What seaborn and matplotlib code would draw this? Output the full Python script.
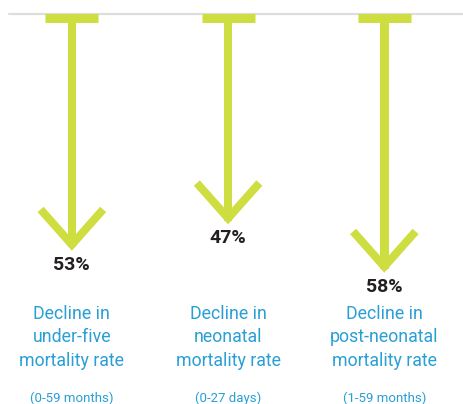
import matplotlib
matplotlib.use("Agg")
import matplotlib.pyplot as plt
import seaborn as sns
import pandas as pd
import numpy as np

# Data
groups = ["under-five", "neonatal", "post-neonatal"]
declines = [53, 47, 58]
titles = ["Decline in\nunder-five\nmortality rate",
          "Decline in\nneonatal\nmortality rate",
          "Decline in\npost-neonatal\nmortality rate"]
ranges = ["(0-59 months)", "(0-27 days)", "(1-59 months)"]

green = "#cedd40"
blue = "#2a9fd6"

sns.set_style("white")
plt.rcParams["font.family"] = ["Roboto", "DejaVu Sans"]

df = pd.DataFrame({"group": groups, "decline": declines})

fig = plt.figure(figsize=(4.64, 4.04), dpi=100)
ax = fig.add_axes([0, 0, 1, 1])

# shafts
sns.barplot(data=df, x="group", y="decline", color=green, width=0.055,
            saturation=1, linewidth=0, ax=ax, order=groups)

xs = np.arange(len(groups))
# top reference line
ax.plot([-0.4, 2.6], [0, 0], color="#dddddd", lw=1.6, zorder=1)
# caps
ax.hlines([1] * len(xs), xs - 0.17, xs + 0.17, color=green, lw=6.5, zorder=3)
# arrow heads
for x, v in zip(xs, declines):
    ax.plot([x - 0.2, x, x + 0.2], [v - 8.6, v - 0.6, v - 8.6],
            color=green, lw=5.8, solid_joinstyle="miter", solid_capstyle="butt",
            zorder=3)
    ax.annotate(f"{v}%", (x, v), xytext=(0, -6), textcoords="offset points",
                ha="center", va="top", fontsize=14, fontweight="bold",
                color="#231f20")

for x, t, r in zip(xs, titles, ranges):
    ax.text(x, 66.0, t, ha="center", va="top", fontsize=12.8, color=blue,
            linespacing=1.4)
    ax.text(x, 85.8, r, ha="center", va="top", fontsize=9.5, color=blue)

ax.set_xlim(-0.46, 2.51)
ax.set_ylim(88.6, -3.18)
ax.axis("off")

fig.savefig("out.png", dpi=100)
